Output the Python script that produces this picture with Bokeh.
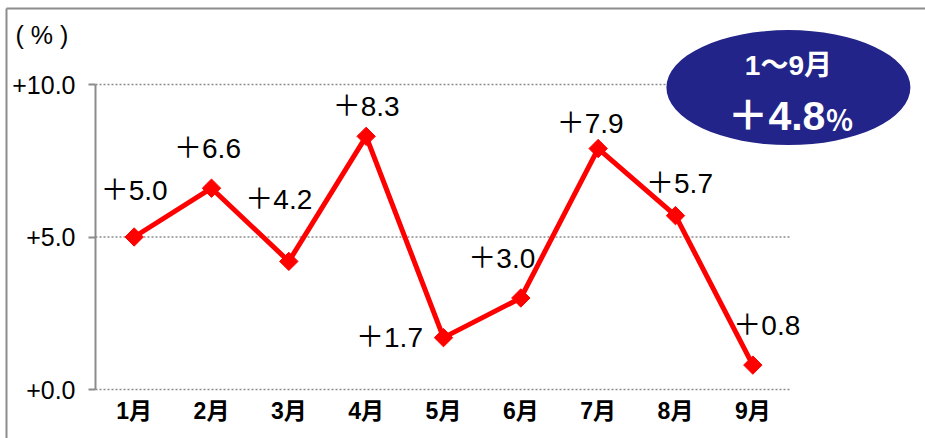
import math
from bokeh.plotting import figure
from bokeh.models import ColumnDataSource, FactorRange, Range1d, FixedTicker
from bokeh.core.properties import value
from bokeh.embed import file_html
from bokeh.resources import INLINE

# ---- data ----
months = ["1月", "2月", "3月", "4月", "5月", "6月", "7月", "8月", "9月"]
growth = [5.0, 6.6, 4.2, 8.3, 1.7, 3.0, 7.9, 5.7, 0.8]
y_ticks = [0, 5, 10]
y_tick_labels = ["+0.0", "+5.0", "+10.0"]
unit_label = "( % )"
total_period = "1～9月"
total_value = 4.8

# label placement (screen px, relative to each point; +y = down)
label_dx = [0, -4, -10, 0, -54, -19, -8, 4, 14]
label_dy = [-47, -40, -62, -30, 0, -40, -25, -32, -40]

labels = ["＋{:.1f}".format(v) for v in growth]
src = ColumnDataSource(dict(x=months, y=growth, text=labels, dx=label_dx, dy=label_dy))

NUM_FONT = "Liberation Sans, Noto Sans CJK JP"
GRAY = "#8c8c8c"

# layout constants (canvas px)
W, H = 925, 438
F_LEFT, F_RIGHT, F_TOP, F_BOTTOM = 95, 791, 84, 389
Y0, Y1 = 0, 10

p = figure(width=W, height=H, x_range=FactorRange(factors=months),
           y_range=Range1d(Y0, Y1), output_backend="svg", toolbar_location=None,
           min_border_left=F_LEFT, min_border_right=W - F_RIGHT,
           min_border_top=F_TOP, min_border_bottom=H - F_BOTTOM)
p.outline_line_color = None
p.background_fill_color = "white"
p.border_fill_color = "white"


def cx(px):  # canvas x -> synthetic x coordinate
    return (px - F_LEFT) / ((F_RIGHT - F_LEFT) / len(months))


def cy(py):  # canvas y -> data y
    return Y1 - (py - F_TOP) / ((F_BOTTOM - F_TOP) / (Y1 - Y0))


# picture frame (left and top edges)
p.segment(x0=[cx(6), cx(6)], y0=[cy(8), cy(8)], x1=[cx(6), cx(W + 20)],
          y1=[cy(H + 20), cy(8)], line_color=GRAY, line_width=2, level="overlay")

# axes
p.xgrid.grid_line_color = None
p.ygrid.grid_line_color = None
p.yaxis.ticker = FixedTicker(ticks=y_ticks)
p.yaxis.major_label_overrides = {t: l for t, l in zip(y_ticks, y_tick_labels)}
p.yaxis.bounds = (Y0, Y1)
p.yaxis.axis_line_color = GRAY
p.yaxis.axis_line_width = 2
p.yaxis.major_tick_line_color = GRAY
p.yaxis.major_tick_line_width = 2
p.yaxis.major_tick_out = 7
p.yaxis.major_tick_in = 0
p.yaxis.minor_tick_line_color = None
p.yaxis.major_label_standoff = 13
p.yaxis.major_label_text_font = "Liberation Sans"
p.yaxis.major_label_text_font_size = "25px"
p.yaxis.major_label_text_color = "black"

p.xaxis.axis_line_color = None
p.xaxis.major_tick_line_color = None
p.xaxis.minor_tick_line_color = None
p.xaxis.major_label_standoff = 2
p.xaxis.major_label_text_font = NUM_FONT
p.xaxis.major_label_text_font_style = "bold"
p.xaxis.major_label_text_font_size = "23px"
p.xaxis.major_label_text_color = "black"

# dotted grid lines
p.segment(x0=[(months[0], -0.5)] * len(y_ticks), x1=[(months[-1], 0.5)] * len(y_ticks),
          y0=y_ticks, y1=y_ticks, line_color=GRAY, line_dash="2 2", line_width=1.5,
          level="overlay")

# line + markers
p.line("x", "y", source=src, line_color="#ff0000", line_width=5, level="overlay")
p.scatter("x", "y", source=src, marker="square", angle=math.pi / 4, size=13,
          fill_color="#ff0000", line_color="#ff0000", level="overlay")

p.text("x", "y", text="text", source=src, x_offset="dx", y_offset="dy",
       text_align="center", text_baseline="middle",
       text_font=value(NUM_FONT), text_font_size="28px", text_color="black",
       level="overlay")

# unit label, anchored at the top-left corner of the plot area
p.text(x=[(months[0], -0.5)], y=[Y1], text=[unit_label], x_offset=-80, y_offset=-50,
       text_align="left", text_baseline="middle",
       text_font=value("Liberation Sans"), text_font_size="25px",
       text_color="black", level="overlay")

# summary ellipse
ex, ey = [(months[-1], 0.46)], [9.9]
p.ellipse(x=ex, y=ey, width=244, height=115, width_units="screen",
          height_units="screen", fill_color="#232489", line_color=None,
          level="overlay")
p.text(x=ex, y=ey, text=[total_period], x_offset=0, y_offset=-22,
       text_align="center", text_baseline="middle",
       text_font=value(NUM_FONT), text_font_style="bold",
       text_font_size="28px", text_color="white", level="overlay")
p.text(x=ex, y=ey, text=["＋{:.1f}".format(total_value)], x_offset=-12, y_offset=28,
       text_align="center", text_baseline="middle",
       text_font=value(NUM_FONT), text_font_style="bold",
       text_font_size="41px", text_color="white", level="overlay")
p.text(x=ex, y=ey, text=["％"], x_offset=51, y_offset=31,
       text_align="center", text_baseline="middle",
       text_font=value("Noto Sans CJK JP"), text_font_style="bold",
       text_font_size="28px", text_color="white", level="overlay")

open("out.html", "w").write(file_html(p, INLINE))
